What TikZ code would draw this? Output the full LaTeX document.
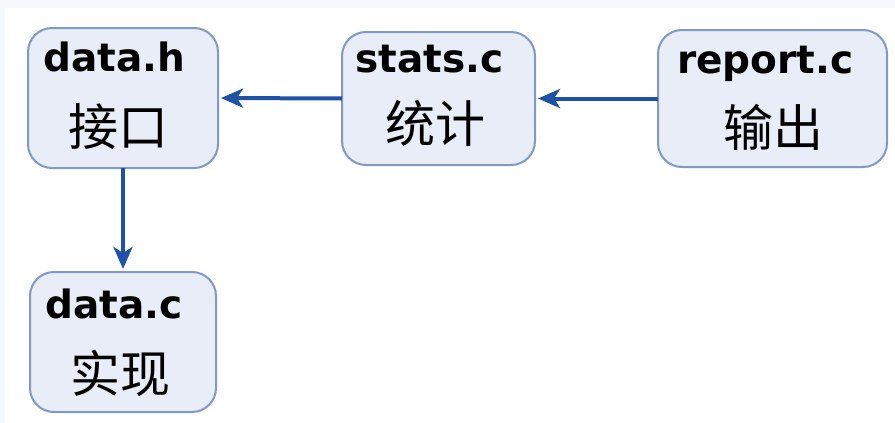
\documentclass[tikz,border=0pt]{standalone}
\usepackage{fontspec}
\newfontfamily\titlefont{DejaVu Sans}
\newfontfamily\cjk{Noto Sans CJK SC}
\usetikzlibrary{arrows.meta}
\definecolor{boxfill}{HTML}{E8EDF7}
\definecolor{boxline}{HTML}{8099C6}
\definecolor{arrowblue}{HTML}{1F52A4}
\definecolor{pagetint}{HTML}{F5F9FD}
\tikzset{
  modbox/.style={draw=boxline, line width=2pt, fill=boxfill, rounded corners=24pt,
    inner sep=0pt, outer sep=0pt},
  fname/.style={anchor=base west, inner sep=0pt, font=\titlefont\bfseries\fontsize{39}{41}\selectfont},
  role/.style={anchor=center, inner sep=0pt, font=\cjk\fontsize{50}{52}\selectfont},
  dep/.style={draw=arrowblue, line width=4pt, -{Stealth[length=22pt,width=19pt,inset=6pt]}, shorten >=3pt}
}
\begin{document}
\begin{tikzpicture}[x=1pt,y=-1pt]
  % page with its faint tinted rim
  \fill[pagetint] (0,0) rectangle (895,423);
  \fill[white] (5,8) rectangle (895,423);
  \useasboundingbox (0,0) rectangle (895,423);

  % module boxes
  \node[modbox, minimum width=190pt, minimum height=140pt] (dh) at (123,98) {};
  \node[modbox, minimum width=193pt, minimum height=133pt] (sc) at (438.5,98.5) {};
  \node[modbox, minimum width=229pt, minimum height=137pt] (rc) at (772.5,98.5) {};
  \node[modbox, minimum width=186pt, minimum height=140pt] (dc) at (123,342) {};

  % file names
  \node[fname] (dh-n) at ([shift={(15,43)}]dh.north west) {data.h};
  \node[fname] (sc-n) at ([shift={(13,40)}]sc.north west) {stats.c};
  \node[fname] (rc-n) at ([shift={(19,43)}]rc.north west) {report.c};
  \node[fname] (dc-n) at ([shift={(15,46)}]dc.north west) {data.c};

  % roles
  \node[role] (dh-r) at ([shift={(-5,99)}]dh.north) {接口};
  \node[role] (sc-r) at ([shift={(-3,91)}]sc.north) {统计};
  \node[role] (rc-r) at ([shift={(1,97)}]rc.north) {输出};
  \node[role] (dc-r) at ([shift={(-3,101)}]dc.north) {实现};

  % dependencies
  \draw[dep] (rc.west) -- (sc.east);
  \draw[dep] (sc.west) -- (dh.east);
  \draw[dep] (dh.south) -- (dc.north);
\end{tikzpicture}
\end{document}
